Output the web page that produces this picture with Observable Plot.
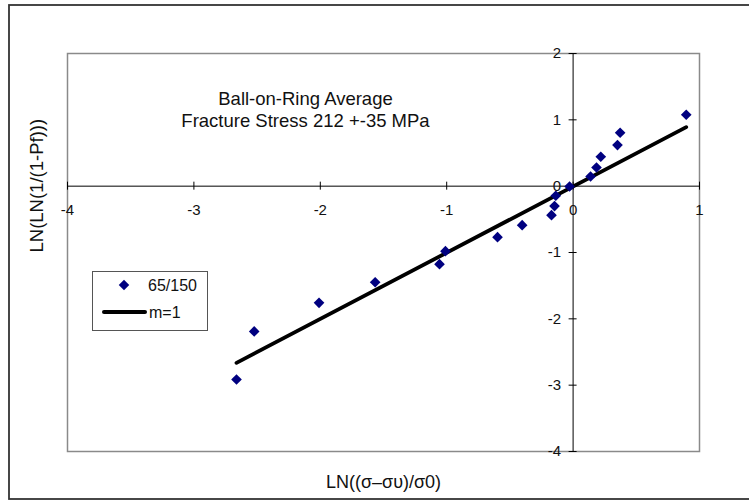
<!DOCTYPE html>
<html>
<head>
<meta charset="utf-8">
<script src="https://cdn.jsdelivr.net/npm/d3@7"></script>
<script src="https://cdn.jsdelivr.net/npm/@observablehq/plot@0.6"></script>
<style>
  html, body { margin: 0; padding: 0; background: #fff; }
  #wrap { position: relative; width: 749px; height: 500px; overflow: hidden; font-family: "Liberation Sans", Arial, sans-serif; }
  #wrap > svg { position: absolute; left: 0; top: 0; }
  #overlay { pointer-events: none; }
</style>
</head>
<body>
<div id="wrap"></div>
<script>
// Data
const sampleX = [-2.663, -2.523, -2.01, -1.566, -1.057, -1.01, -0.598, -0.403, -0.171, -0.147, -0.137, -0.028, 0.138, 0.185, 0.219, 0.351, 0.372, 0.895];
const sampleY = [-2.915, -2.19, -1.759, -1.448, -1.176, -0.98, -0.769, -0.588, -0.437, -0.30, -0.145, -0.005, 0.146, 0.282, 0.443, 0.619, 0.805, 1.077];
const fitX = [-2.663, 0.895];
const fitY = [-2.664, 0.89];
const xTicks = [-4, -3, -2, -1, 0, 1];
const yTicks = [-4, -3, -2, -1, 0, 1, 2];
const seriesName = "65/150";
const fitName = "m=1";
const annotation = ["Ball-on-Ring Average", "Fracture Stress 212 +-35 MPa"];
const xTitle = "LN((σ–συ)/σ0)";
const yTitle = "LN(LN(1/(1-Pf)))";

const points = sampleX.map((x, i) => ({x, y: sampleY[i]}));
const fit = fitX.map((x, i) => ({x, y: fitY[i]}));

const font = "Liberation Sans, Arial, sans-serif";

const chart = Plot.plot({
  width: 749,
  height: 500,
  marginLeft: 67,
  marginRight: 50,
  marginTop: 53,
  marginBottom: 49,
  style: {fontFamily: font, background: "white", overflow: "visible"},
  x: {domain: [-4, 1], axis: null},
  y: {domain: [-4, 2], axis: null},
  marks: [
    Plot.frame({stroke: "#8a8a8a", strokeWidth: 1.5}),
    Plot.ruleY([0], {stroke: "black", strokeWidth: 1}),
    Plot.ruleX([0], {stroke: "black", strokeWidth: 1}),
    Plot.ruleX(xTicks, {x: d => d, y1: 0, y2: 0, insetTop: -4, insetBottom: -4, stroke: "black"}),
    Plot.ruleY(yTicks, {y: d => d, x1: 0, x2: 0, insetLeft: -4, insetRight: -4, stroke: "black"}),
    Plot.text(xTicks, {x: d => d, y: 0, text: d => String(d), dy: 24, fontSize: 15, fill: "#111"}),
    Plot.text(yTicks, {x: 0, y: d => d, text: d => String(d), textAnchor: "end", dx: -12, fontSize: 15, fill: "#111"}),
    Plot.line(fit, {x: "x", y: "y", stroke: "black", strokeWidth: 3.8, strokeLinecap: "round"}),
    Plot.dot(points, {x: "x", y: "y", symbol: "diamond2", r: 4.8, fill: "#000080", stroke: "none"}),
    Plot.text([annotation.join("\n")], {frameAnchor: "top-left", text: d => d, textAnchor: "middle", lineAnchor: "top", dx: 238, dy: 36, lineHeight: 1.19, fontSize: 18.5, fill: "#111"}),
    Plot.text([xTitle], {frameAnchor: "bottom", text: d => d, lineAnchor: "middle", dy: 31, fontSize: 18, fill: "#111"}),
    Plot.text([yTitle], {frameAnchor: "left", text: d => d, rotate: -90, lineAnchor: "middle", dx: -30, fontSize: 18.5, fill: "#111"})
  ]
});
document.getElementById("wrap").appendChild(chart);

// Legend and chart-area border overlay
const ov = d3.select("#wrap").append("svg")
  .attr("id", "overlay")
  .attr("width", 749).attr("height", 500)
  .style("font-family", font);
ov.append("rect").attr("x", 9).attr("y", 5).attr("width", 760).attr("height", 494)
  .attr("fill", "none").attr("stroke", "#333").attr("stroke-width", 1.8);
const lg = ov.append("g").attr("transform", "translate(92,271)");
lg.append("rect").attr("x", 0.5).attr("y", 0.5).attr("width", 115).attr("height", 59)
  .attr("fill", "white").attr("stroke", "#555").attr("stroke-width", 1);
lg.append("path").attr("d", d3.symbol(d3.symbolDiamond2, 70)()).attr("transform", "translate(32,14)").attr("fill", "#000080");
lg.append("text").attr("x", 56).attr("y", 14).attr("dy", "0.35em").attr("font-size", 16).attr("fill", "#111").text(seriesName);
lg.append("line").attr("x1", 12).attr("x2", 53).attr("y1", 41).attr("y2", 41)
  .attr("stroke", "black").attr("stroke-width", 4).attr("stroke-linecap", "round");
lg.append("text").attr("x", 57).attr("y", 41).attr("dy", "0.35em").attr("font-size", 16).attr("fill", "#111").text(fitName);
</script>
</body>
</html>
